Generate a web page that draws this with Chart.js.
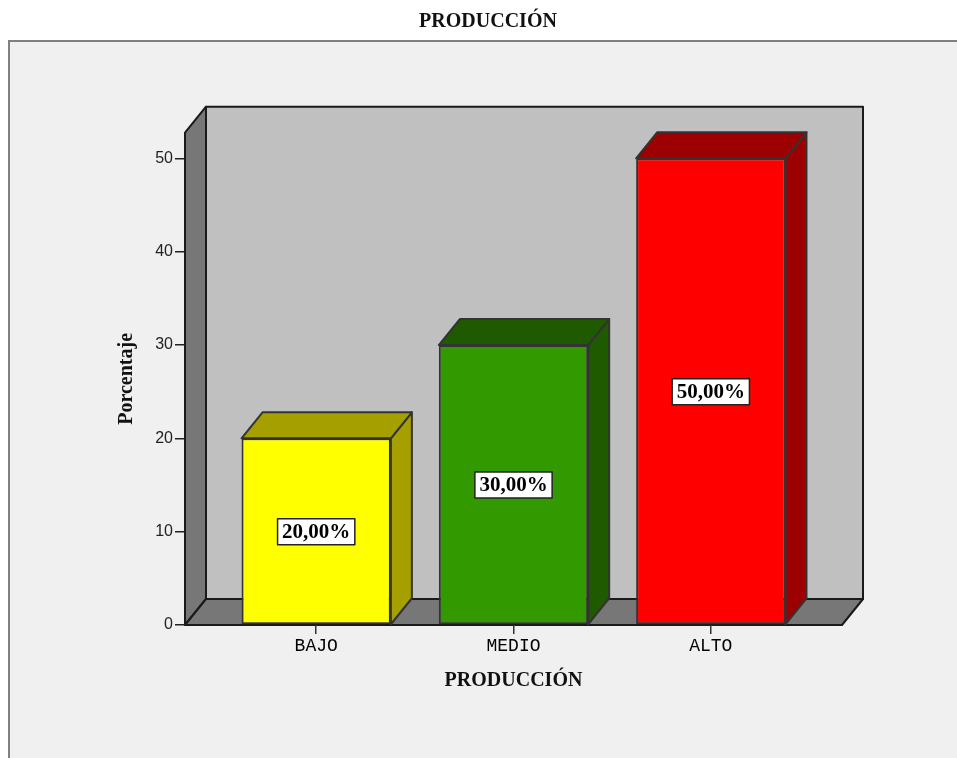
<!DOCTYPE html>
<html>
<head>
<meta charset="utf-8">
<script src="https://cdn.jsdelivr.net/npm/chart.js@4"></script>
<style>
  html, body { margin: 0; padding: 0; background: #fff; }
  canvas { display: block; }
</style>
</head>
<body>
<canvas id="graficoProduccion" width="957" height="758"></canvas>
<script>
const categorias = ['BAJO', 'MEDIO', 'ALTO'];
const porcentajes = [20, 30, 50];
const marcasY = [0, 10, 20, 30, 40, 50];

// colores: cara frontal y caras de profundidad (arriba / costado)
const coloresFrente = ['#ffff00', '#339900', '#ff0000'];
const coloresFondo = ['#a5a000', '#1f5900', '#9c0000'];

// desplazamiento de la profundidad 3D
const PROF_X = 21, PROF_Y = -26;
const serif = '"Liberation Serif", "Times New Roman", serif';

function poligono(ctx, puntos, relleno) {
  ctx.beginPath();
  ctx.moveTo(puntos[0][0], puntos[0][1]);
  for (let i = 1; i < puntos.length; i++) ctx.lineTo(puntos[i][0], puntos[i][1]);
  ctx.closePath();
  ctx.fillStyle = relleno;
  ctx.fill();
  ctx.stroke();
}

// marco, paredes y piso
const fondo3D = {
  id: 'fondo3D',
  beforeDraw(chart) {
    const ctx = chart.ctx;
    const {left, right, top, bottom} = chart.chartArea;
    ctx.save();
    ctx.fillStyle = '#ffffff';
    ctx.fillRect(0, 0, chart.width, chart.height);
    ctx.fillStyle = '#f0f0f0';
    ctx.fillRect(8, 40, chart.width, chart.height);
    ctx.strokeStyle = '#808080';
    ctx.lineWidth = 2;
    ctx.beginPath();
    ctx.moveTo(9, chart.height);
    ctx.lineTo(9, 41);
    ctx.lineTo(chart.width, 41);
    ctx.stroke();

    ctx.strokeStyle = '#1a1a1a';
    ctx.lineWidth = 2;
    ctx.lineJoin = 'round';
    poligono(ctx, [[left + PROF_X, top + PROF_Y], [right + PROF_X, top + PROF_Y],
      [right + PROF_X, bottom + PROF_Y], [left + PROF_X, bottom + PROF_Y]], '#c0c0c0');
    poligono(ctx, [[left, top], [left + PROF_X, top + PROF_Y],
      [left + PROF_X, bottom + PROF_Y], [left, bottom]], '#777777');
    poligono(ctx, [[left, bottom], [left + PROF_X, bottom + PROF_Y],
      [right + PROF_X, bottom + PROF_Y], [right, bottom]], '#777777');
    ctx.restore();
  }
};

// caras superior y lateral de cada barra, y las etiquetas de valor
const barras3D = {
  id: 'barras3D',
  afterDatasetsDraw(chart) {
    const ctx = chart.ctx;
    const meta = chart.getDatasetMeta(0);
    ctx.save();
    ctx.lineJoin = 'round';
    meta.data.forEach((barra, i) => {
      const {x, y, base, width} = barra.getProps(['x', 'y', 'base', 'width'], true);
      const l = x - width / 2, r = x + width / 2;
      ctx.strokeStyle = '#333333';
      ctx.lineWidth = 2;
      poligono(ctx, [[r, y], [r + PROF_X, y + PROF_Y], [r + PROF_X, base + PROF_Y], [r, base]], coloresFondo[i]);
      poligono(ctx, [[l, y], [l + PROF_X, y + PROF_Y], [r + PROF_X, y + PROF_Y], [r, y]], coloresFondo[i]);

      const texto = porcentajes[i].toFixed(2).replace('.', ',') + '%';
      const yc = chart.scales.y.getPixelForValue(porcentajes[i] / 2);
      ctx.font = 'bold 21px ' + serif;
      const w = ctx.measureText(texto).width + 9;
      const h = 26;
      ctx.fillStyle = '#ffffff';
      ctx.fillRect(x - w / 2, yc - h / 2, w, h);
      ctx.lineWidth = 1.5;
      ctx.strokeStyle = '#222222';
      ctx.strokeRect(x - w / 2, yc - h / 2, w, h);
      ctx.fillStyle = '#000000';
      ctx.textAlign = 'center';
      ctx.textBaseline = 'middle';
      ctx.fillText(texto, x, yc + 1);
    });
    ctx.restore();
  }
};

const graficoProduccion = new Chart(document.getElementById('graficoProduccion'), {
  type: 'bar',
  data: {
    datasets: [{
      label: 'Porcentaje',
      data: categorias.map((c, i) => ({x: i, y: porcentajes[i]})),
      backgroundColor: coloresFrente,
      borderColor: '#333333',
      borderWidth: 2,
      borderSkipped: false,
      barPercentage: 0.757,
      categoryPercentage: 1
    }]
  },
  options: {
    responsive: false,
    animation: false,
    layout: {padding: {left: 19, right: 0, top: 0, bottom: 0}},
    plugins: {
      legend: {display: false},
      tooltip: {enabled: false},
      title: {
        display: true,
        text: 'PRODUCCIÓN',
        color: '#111111',
        font: {family: serif, size: 20, weight: 'bold'},
        padding: {top: 10, bottom: 98.7}
      }
    },
    scales: {
      x: {
        type: 'linear',
        min: -0.665,
        max: 2.665,
        offset: false,
        afterBuildTicks: eje => { eje.ticks = categorias.map((c, i) => ({value: i})); },
        afterFit: eje => { eje.height = 133; },
        ticks: {
          callback: v => categorias[v],
          color: '#000000',
          font: {family: '"Liberation Mono", "Courier New", monospace', size: 18},
          padding: 1,
          autoSkip: false,
          maxRotation: 0
        },
        grid: {offset: false, drawOnChartArea: false, drawTicks: true, tickLength: 9, color: '#333333', lineWidth: 1.5},
        border: {display: false},
        title: {
          display: true,
          text: 'PRODUCCIÓN',
          color: '#111111',
          font: {family: serif, size: 20, weight: 'bold'},
          padding: {top: 0, bottom: 65}
        }
      },
      y: {
        min: 0,
        max: 52.75,
        afterBuildTicks: eje => { eje.ticks = marcasY.map(v => ({value: v})); },
        afterFit: eje => { eje.width = 166; },
        ticks: {
          color: '#222222',
          font: {family: '"Liberation Sans", Arial, sans-serif', size: 16},
          padding: 2
        },
        grid: {drawOnChartArea: false, drawTicks: true, tickLength: 10, color: '#222222', lineWidth: 1.5},
        border: {display: false},
        title: {
          display: true,
          text: 'Porcentaje',
          color: '#111111',
          font: {family: serif, size: 20, weight: 'bold'},
          padding: {top: 96, bottom: 0}
        }
      },
      // espacio vacío a la derecha del área de trazado
      margenDerecho: {
        type: 'linear',
        position: 'right',
        afterFit: eje => { eje.width = 115; },
        ticks: {display: false},
        grid: {display: false},
        border: {display: false}
      }
    }
  },
  plugins: [fondo3D, barras3D]
});
</script>
</body>
</html>
